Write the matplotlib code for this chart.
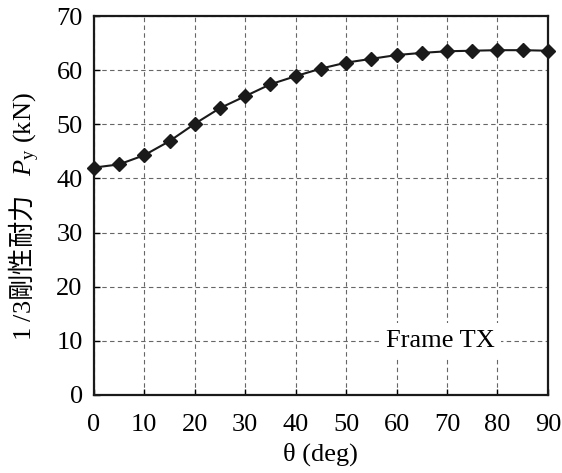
import matplotlib
matplotlib.use("Agg")
import matplotlib.pyplot as plt

# datos
theta = [0, 5, 10, 15, 20, 25, 30, 35, 40, 45, 50, 55, 60, 65, 70, 75, 80, 85, 90]
py = [42.0, 42.6, 44.3, 46.9, 50.1, 53.0, 55.2, 57.4, 58.9, 60.3, 61.4, 62.1,
      62.8, 63.2, 63.5, 63.6, 63.7, 63.7, 63.6]
xticks = list(range(0, 91, 10))
yticks = list(range(0, 71, 10))

plt.rcParams['font.family'] = ['Liberation Serif', 'Noto Sans CJK JP']
plt.rcParams['mathtext.fontset'] = 'custom'
plt.rcParams['mathtext.rm'] = 'Noto Sans CJK JP'
plt.rcParams['mathtext.it'] = 'Liberation Serif:italic'
plt.rcParams['mathtext.bf'] = 'Liberation Serif'

fs = 19

fig = plt.figure(figsize=(5.62, 4.73), dpi=100)
ax = fig.add_axes([0.167, 0.165, 0.808, 0.801])

ax.plot(theta, py, color='#1a1a1a', lw=1.5, marker='D', markersize=7, clip_on=False, zorder=3)

ax.set_xlim(0, 90)
ax.set_ylim(0, 70)
ax.set_xticks(xticks)
ax.set_yticks(yticks)
ax.tick_params(direction='in', labelsize=fs, length=4, width=1)
ax.tick_params(axis='x', pad=14)
ax.tick_params(axis='y', pad=8)
ax.grid(True, color='#666666', linestyle=(0, (4, 3)), linewidth=0.8)
for s in ax.spines.values():
    s.set_linewidth(1.6)
    s.set_color('#1a1a1a')

ax.set_xlabel('θ (deg)', fontsize=fs)
ax.xaxis.set_label_coords(0.5, -0.125)
ax.set_ylabel('1 /3$\\mathrm{剛性耐力}$   $\\mathit{P}_{\\mathbf{y}}$ (kN)', fontsize=fs)
ax.yaxis.set_label_coords(-0.115, 0.472)

ax.text(68.6, 10, 'Frame TX', fontsize=fs, ha='center', va='center',
        bbox=dict(facecolor='white', edgecolor='none', pad=5), zorder=4)

fig.savefig('out.png', dpi=100)
